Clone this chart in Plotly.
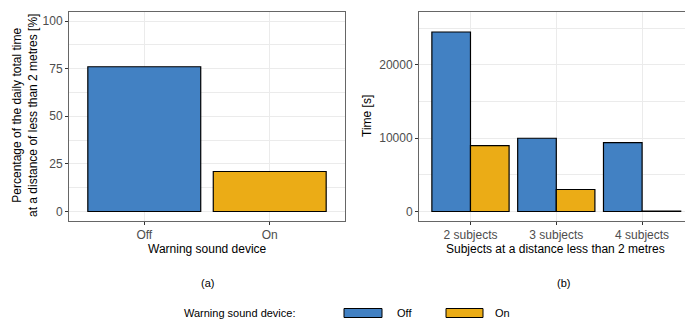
import plotly.graph_objects as go

# ---- data ----
devices = ["Off", "On"]
pct_daily = [76, 21]

subjects = ["2 subjects", "3 subjects", "4 subjects"]
time_off = [24500, 10000, 9400]
time_on = [9000, 3000, 40]

colors = {"Off": "#4281C3", "On": "#EBAC16"}

W, H = 685, 320
FONT = "Liberation Sans, Arial, sans-serif"

def px_x(v):
    return v / W

def px_y(v):
    return 1 - v / H

fig = go.Figure()

fig.add_trace(go.Bar(
    x=devices, y=pct_daily, xaxis="x", yaxis="y",
    marker=dict(color=[colors[d] for d in devices], line=dict(color="black", width=1.2)),
    showlegend=False,
))
fig.add_trace(go.Bar(
    x=subjects, y=time_off, xaxis="x2", yaxis="y2", name="Off",
    marker=dict(color=colors["Off"], line=dict(color="black", width=1.2)),
    showlegend=False,
))
fig.add_trace(go.Bar(
    x=subjects, y=time_on, xaxis="x2", yaxis="y2", name="On",
    marker=dict(color=colors["On"], line=dict(color="black", width=1.2)),
    showlegend=False,
))

ydom = [px_y(221), px_y(11.5)]
grid = "#ebebeb"
axcommon = dict(
    showline=True, linecolor="#666666", linewidth=1,
    ticks="outside", ticklen=3, tickcolor="#333333", tickwidth=1,
    showgrid=True, gridcolor=grid, gridwidth=1, zeroline=False,
    tickfont=dict(family=FONT, size=12, color="#4d4d4d"),
)

fig.update_layout(
    width=W, height=H,
    margin=dict(l=0, r=0, t=0, b=0),
    paper_bgcolor="white", plot_bgcolor="white",
    barmode="group", bargap=0.1, bargroupgap=0,
    font=dict(family=FONT, size=12, color="black"),
    xaxis=dict(domain=[px_x(69), px_x(345)], anchor="y", type="category",
               range=[-0.6, 1.6], mirror=True, **axcommon),
    yaxis=dict(domain=ydom, anchor="x", range=[-5, 105], tickvals=[0, 25, 50, 75, 100],
               mirror=True,
               minor=dict(dtick=12.5, tick0=0, showgrid=True, gridcolor=grid, gridwidth=0.5),
               **axcommon),
    xaxis2=dict(domain=[px_x(419), 1.0], anchor="y2", type="category",
                range=[-0.6, 2.5], mirror=True, **axcommon),
    yaxis2=dict(domain=ydom, anchor="x2", range=[-1300, 27300], tickvals=[0, 10000, 20000],
                tickformat="d", mirror=False,
                minor=dict(dtick=5000, tick0=0, showgrid=True, gridcolor=grid, gridwidth=0.5),
                **axcommon),
)

ann = []
def text(x, y, s, angle=0, size=12, color="black", xanchor="center"):
    ann.append(dict(x=px_x(x), y=px_y(y), xref="paper", yref="paper", text=s,
                    showarrow=False, textangle=angle, xanchor=xanchor, yanchor="middle",
                    font=dict(family=FONT, size=size, color=color)))

text(25, 116, "Percentage of the daily total time<br>at a distance of less than 2 metres [%]", angle=-90)
text(207, 249, "Warning sound device")
text(367, 116, "Time [s]", angle=-90)
text(555, 249, "Subjects at a distance less than 2 metres")
text(207, 283, "(a)", size=11)
text(563, 283, "(b)", size=11)
text(182, 313, "Warning sound device:", size=11, xanchor="left")
text(395, 313, "Off", size=11, xanchor="left")
text(493, 313, "On", size=11, xanchor="left")

shapes = []
for (x0, x1), key in [((344, 382), "Off"), ((446, 483), "On")]:
    shapes.append(dict(type="rect", xref="paper", yref="paper",
                       x0=px_x(x0), x1=px_x(x1), y0=px_y(317.5), y1=px_y(308.5),
                       fillcolor=colors[key], line=dict(color="black", width=1)))

fig.update_layout(annotations=ann, shapes=shapes)

fig.write_html("out.html", config={"displayModeBar": False})

# remove the default page margin so the figure fills the window exactly
with open("out.html", "r", encoding="utf-8") as f:
    html = f.read()
html = html.replace("<head>", "<head><style>html,body{margin:0;padding:0;overflow:hidden;}</style>", 1)
with open("out.html", "w", encoding="utf-8") as f:
    f.write(html)
